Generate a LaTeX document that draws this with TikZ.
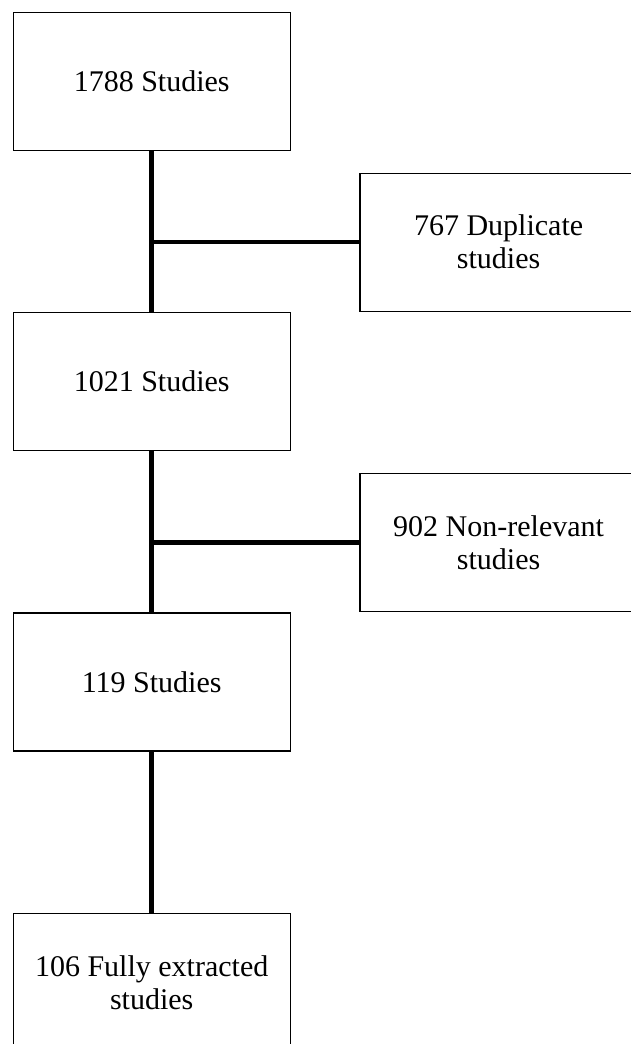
\documentclass[tikz,border=0pt]{standalone}
\usepackage{fontspec}
\setmainfont{Liberation Serif}
\usetikzlibrary{positioning}
\tikzstyle{stagebox} = [rectangle, minimum width=277pt, minimum height=138pt, text centered, align=center, draw=black, line width=1.4pt, inner sep=0pt, font=\fontsize{30}{33}\selectfont]
\tikzstyle{link} = [line width=4.5pt, black]

\begin{document}
\begin{tikzpicture}[node distance=161pt]

\useasboundingbox (0pt,0pt) rectangle (631pt,-1044pt);

\node (s1788) [stagebox, anchor=north west] at (12.5pt,-11.5pt) {1788 Studies};
\node (s1021) [stagebox, below=of s1788] {1021 Studies};
\node (s119) [stagebox, below=of s1021] {119 Studies};
\node (s106) [stagebox, below=of s119] {106 Fully extracted\\studies};

\node (dup) [stagebox, above right=0pt and 68.5pt of s1021] {767 Duplicate\\studies};
\node (nonrel) [stagebox, above right=0pt and 68.5pt of s119] {902 Non-relevant\\studies};

\draw [link] (s1788) -- (s1021);
\draw [link] (s1021) -- (s119);
\draw [link] (s119) -- (s106);
\draw [link] (dup.west) -- (dup.west -| s1788.south);
\draw [link] (nonrel.west) -- (nonrel.west -| s1021.south);

\end{tikzpicture}
\end{document}
